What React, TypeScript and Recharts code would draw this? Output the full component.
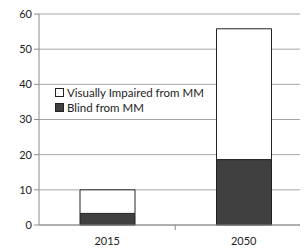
import { Bar, BarChart, CartesianGrid, XAxis, YAxis } from "recharts";

const years = ["2015", "2050"];
const blindFromMM = [3.3, 18.6];
const impairedFromMM = [6.7, 37.2];
const yTicks = [0, 10, 20, 30, 40, 50, 60];
const legendItems = [
  { label: "Visually Impaired from MM", fill: "#ffffff" },
  { label: "Blind from MM", fill: "#404040" },
];

const data = years.map((year, i) => ({
  year,
  blind: blindFromMM[i],
  impaired: impairedFromMM[i],
}));

const font = "Lato, 'Open Sans', sans-serif";
const axisColor = "#8c8c8c";
const halfBand = 68;

// Excel-style tick between the two categories, drawn from the first tick's position
function YearTick(props: any) {
  const { x, y, payload, index } = props;
  return (
    <g>
      {index === 0 ? (
        <line x1={x + halfBand} x2={x + halfBand} y1={y - 8} y2={y - 3} stroke={axisColor} />
      ) : null}
      <text x={x} y={y + 12} textAnchor="middle" fontSize={11} fill="#222" fontFamily={font}>
        {payload.value}
      </text>
    </g>
  );
}

function LegendBox() {
  return (
    <div
      style={{
        position: "absolute",
        left: 55,
        top: 85,
        fontFamily: font,
        fontSize: 11.5,
        color: "#222",
        lineHeight: "15px",
      }}
    >
      {legendItems.map((item) => (
        <div key={item.label} style={{ display: "flex", alignItems: "center", gap: 3 }}>
          <span
            style={{
              display: "inline-block",
              width: 7,
              height: 7,
              background: item.fill,
              border: "1px solid #222",
            }}
          />
          {item.label}
        </div>
      ))}
    </div>
  );
}

export default function App() {
  return (
    <div
      style={{
        position: "relative",
        margin: "-8px 0 0 -8px",
        width: 308,
        height: 250,
        overflow: "hidden",
        background: "#fff",
      }}
    >
      <BarChart
        width={314}
        height={250}
        data={data}
        margin={{ top: 14, right: 2, bottom: 5, left: 0 }}
      >
        <CartesianGrid vertical={false} stroke="#a6a6a6" />
        <XAxis
          dataKey="year"
          stroke={axisColor}
          tickLine={false}
          tick={<YearTick />}
          height={20}
        />
        <YAxis
          domain={[0, 60]}
          ticks={yTicks}
          stroke={axisColor}
          tickSize={5}
          width={39}
          tick={{ fontSize: 11, fill: "#222", fontFamily: font }}
        />
        <Bar
          dataKey="blind"
          stackId="a"
          fill="#404040"
          stroke="#222"
          strokeWidth={1}
          barSize={55}
          isAnimationActive={false}
        />
        <Bar
          dataKey="impaired"
          stackId="a"
          fill="#ffffff"
          stroke="#222"
          strokeWidth={1}
          barSize={55}
          isAnimationActive={false}
        />
      </BarChart>
      <LegendBox />
    </div>
  );
}
